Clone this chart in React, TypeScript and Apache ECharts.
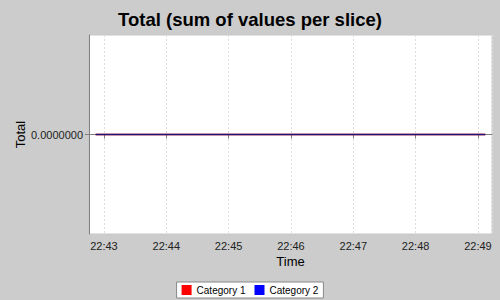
import React, { useEffect, useRef } from "react";
import * as echarts from "echarts";

const titleText = "Total (sum of values per slice)";
const seriesNames = ["Category 1", "Category 2"];
const seriesColors = ["#ff0000", "#0000ff"];
// sample times (HH:MM:SS) of the slices
const times = [
  "22:42:52", "22:43:22", "22:43:52", "22:44:22", "22:44:52", "22:45:22",
  "22:45:52", "22:46:22", "22:46:52", "22:47:22", "22:47:52", "22:48:22",
  "22:48:52", "22:49:07",
];
const cat1Values = [0, 0, 0, 0, 0, 0, 0, 0, 0, 0, 0, 0, 0, 0];
const cat2Values = [0, 0, 0, 0, 0, 0, 0, 0, 0, 0, 0, 0, 0, 0];
const xMinTime = "22:42:45.6";
const xMaxTime = "22:49:13.5";
const yTickLabel = "0.0000000";

function toMs(t: string): number {
  const [h, m, s] = t.split(":");
  return Date.UTC(2000, 0, 1, Number(h), Number(m)) + Number(s) * 1000;
}

const FONT = "Liberation Sans, Arial, sans-serif";

export default function App() {
  const ref = useRef<HTMLDivElement>(null);
  useEffect(() => {
    if (!ref.current) return;
    const chart = echarts.init(ref.current, null, { renderer: "svg" });
    const mk = (vals: number[]) => times.map((t, i) => [toMs(t), vals[i]]);
    chart.setOption({
      animation: false,
      useUTC: true,
      backgroundColor: "#cccccc",
      textStyle: { fontFamily: FONT },
      title: {
        text: titleText,
        left: "center",
        top: 5,
        textStyle: { fontSize: 18.5, fontWeight: "bold", color: "#000", fontFamily: FONT },
      },
      grid: {
        left: 89,
        right: 8,
        top: 35,
        bottom: 66,
        show: true,
        backgroundColor: "#ffffff",
        borderColor: "#c8c8c8",
        borderWidth: 1,
      },
      legend: {
        bottom: 2,
        left: "center",
        icon: "rect",
        itemWidth: 10,
        itemHeight: 10,
        itemGap: 9,
        backgroundColor: "#ffffff",
        borderColor: "#888888",
        borderWidth: 1,
        borderRadius: 0,
        padding: [3, 5],
        textStyle: { fontSize: 10, color: "#000", fontFamily: FONT },
        data: seriesNames.map((n, i) => ({ name: n, itemStyle: { color: seriesColors[i] } })),
      },
      xAxis: {
        type: "time",
        min: toMs(xMinTime),
        max: toMs(xMaxTime),
        minInterval: 60000,
        maxInterval: 60000,
        name: "Time",
        nameLocation: "middle",
        nameGap: 21,
        nameMoveOverlap: false,
        nameTextStyle: { fontSize: 13, color: "#000", fontFamily: FONT },
        axisLine: { lineStyle: { color: "#808080" } },
        axisTick: { show: true, length: 4, lineStyle: { color: "#808080" } },
        axisLabel: {
          fontSize: 11,
          color: "#222",
          margin: 6,
          showMinLabel: false,
          showMaxLabel: false,
          formatter: (v: number) => {
            const d = new Date(v);
            const hh = String(d.getUTCHours()).padStart(2, "0");
            const mm = String(d.getUTCMinutes()).padStart(2, "0");
            return hh + ":" + mm;
          },
        },
        splitLine: { show: true, lineStyle: { color: "#dddddd", type: [2, 2] } },
      },
      yAxis: {
        type: "value",
        min: -1,
        max: 1,
        interval: 1,
        name: "Total",
        nameLocation: "middle",
        nameGap: 62,
        nameMoveOverlap: false,
        nameTextStyle: { fontSize: 13, color: "#000", fontFamily: FONT },
        axisLine: { show: true, lineStyle: { color: "#808080" } },
        axisTick: { show: true, length: 4, customValues: [0], lineStyle: { color: "#808080" } },
        axisLabel: {
          fontSize: 11,
          color: "#222",
          margin: 6,
          customValues: [0],
          formatter: () => yTickLabel,
        },
        splitLine: { show: false },
      },
      series: [
        {
          name: seriesNames[0],
          type: "line",
          data: mk(cat1Values),
          showSymbol: false,
          itemStyle: { color: seriesColors[0] },
          lineStyle: { color: seriesColors[0], width: 1.5 },
        },
        {
          name: seriesNames[1],
          type: "line",
          data: mk(cat2Values),
          showSymbol: false,
          itemStyle: { color: seriesColors[1] },
          lineStyle: { color: "#1c1478", width: 1.5 },
        },
      ],
    });
    return () => chart.dispose();
  }, []);
  return <div ref={ref} style={{ width: 500, height: 300, position: "absolute", left: 0, top: 0 }} />;
}
